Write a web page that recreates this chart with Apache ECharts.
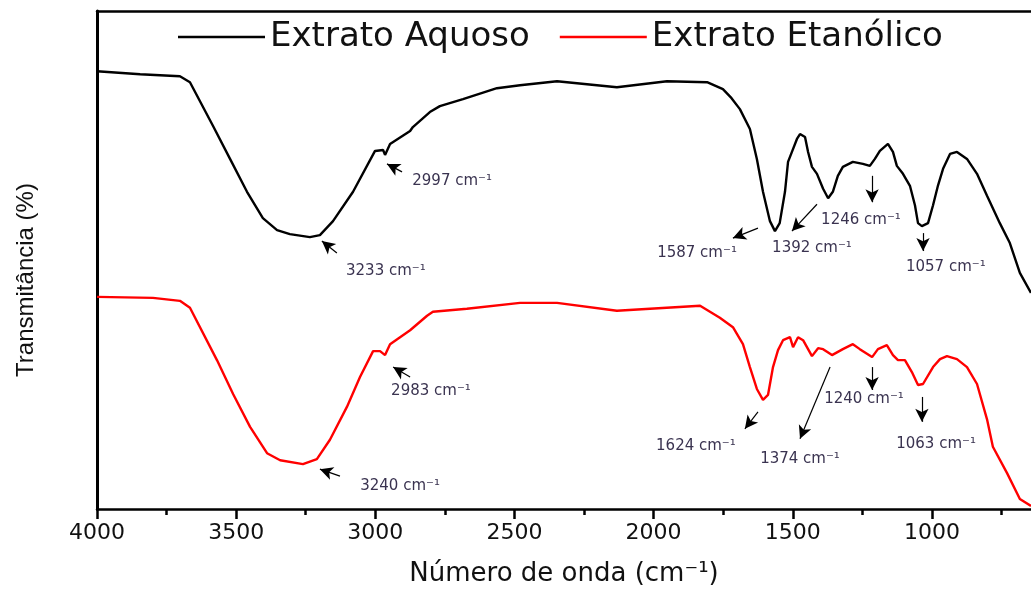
<!DOCTYPE html>
<html>
<head>
<meta charset="utf-8">
<script src="https://cdn.jsdelivr.net/npm/echarts@6/dist/echarts.min.js"></script>
<style>html,body{margin:0;padding:0;background:#fff;}#c{width:1031px;height:592px;}</style>
</head>
<body>
<div id="c"></div>
<script>
// ---- data ----
const seriesNames = ['Extrato Aquoso', 'Extrato Etanólico'];
const majorTicks = [4000, 3500, 3000, 2500, 2000, 1500, 1000];
const minorTicks = [3750, 3250, 2750, 2250, 1750, 1250, 750];

const aquosoWn = [4000, 3845, 3702, 3666, 3583, 3522, 3461, 3404, 3353, 3307, 3235, 3199, 3152, 3080, 3001, 2972, 2965, 2947, 2875, 2865, 2804, 2768, 2685, 2563, 2480, 2347, 2132, 1952, 1808, 1751, 1720, 1690, 1654, 1629, 1607, 1582, 1564, 1547, 1528, 1517, 1503, 1485, 1474, 1456, 1445, 1431, 1413, 1391, 1373, 1356, 1338, 1320, 1284, 1248, 1223, 1205, 1187, 1158, 1140, 1126, 1104, 1079, 1061, 1050, 1036, 1014, 996, 978, 960, 935, 910, 874, 838, 802, 756, 720, 684, 644];
const aquosoT  = [87.9, 87.3, 86.9, 85.7, 76.9, 70.3, 63.7, 58.4, 56.0, 55.2, 54.6, 55.0, 57.8, 63.7, 71.9, 72.1, 71.1, 73.3, 75.9, 76.7, 79.7, 80.9, 82.3, 84.5, 85.1, 85.9, 84.7, 85.9, 85.7, 84.3, 82.5, 80.3, 76.3, 70.3, 63.7, 57.8, 55.8, 57.4, 63.7, 69.7, 71.7, 74.3, 75.3, 74.7, 71.7, 68.7, 67.3, 64.3, 62.4, 63.7, 66.9, 68.7, 69.7, 69.3, 68.9, 70.3, 71.9, 73.3, 71.7, 68.9, 67.3, 64.9, 61.0, 57.4, 56.8, 57.4, 61.0, 65.0, 68.3, 71.3, 71.7, 70.3, 67.3, 62.9, 57.4, 53.4, 47.4, 43.4];

const etanolicoWn = [4000, 3799, 3702, 3666, 3569, 3511, 3450, 3389, 3342, 3260, 3210, 3163, 3102, 3055, 3008, 2983, 2965, 2947, 2875, 2814, 2793, 2671, 2480, 2347, 2132, 2013, 1833, 1762, 1715, 1679, 1654, 1629, 1607, 1589, 1571, 1553, 1535, 1510, 1499, 1481, 1463, 1431, 1409, 1391, 1359, 1320, 1284, 1259, 1215, 1194, 1162, 1140, 1122, 1097, 1072, 1050, 1032, 996, 971, 946, 910, 874, 838, 802, 781, 730, 684, 644];
const etanolicoT  = [42.6, 42.4, 41.8, 40.4, 29.9, 23.1, 16.5, 11.2, 9.8, 9.0, 10.0, 13.9, 20.5, 26.5, 31.7, 31.7, 30.9, 33.1, 35.9, 38.8, 39.6, 40.2, 41.4, 41.4, 39.8, 40.2, 40.8, 38.4, 36.5, 33.1, 28.5, 24.1, 21.9, 22.9, 28.5, 31.9, 33.9, 34.5, 32.5, 34.5, 33.9, 30.7, 32.3, 32.1, 30.9, 32.1, 33.1, 32.1, 30.5, 32.1, 32.9, 30.9, 29.9, 29.9, 27.5, 24.9, 25.1, 28.5, 30.1, 30.7, 30.1, 28.5, 25.1, 18.0, 12.5, 7.2, 2.0, 0.6];

// annotation labels: [text, wavenumber, T]
const aquosoLabels = [
  ['2997 cm⁻¹', 2724, 65.9],
  ['3233 cm⁻¹', 2962, 47.8],
  ['1587 cm⁻¹', 1844, 51.4],
  ['1392 cm⁻¹', 1431, 52.4],
  ['1246 cm⁻¹', 1255, 58.0],
  ['1057 cm⁻¹', 950, 48.6]
];
const etanolicoLabels = [
  ['2983 cm⁻¹', 2800, 23.7],
  ['3240 cm⁻¹', 2911, 4.6],
  ['1624 cm⁻¹', 1848, 12.7],
  ['1374 cm⁻¹', 1474, 10.0],
  ['1240 cm⁻¹', 1244, 22.1],
  ['1063 cm⁻¹', 985, 13.1]
];
// arrows: [tailWn, tailT, headWn, headT]
const aquosoArrows = [
  [2904, 67.7, 2958, 69.3],
  [3138, 51.4, 3192, 53.8],
  [1625, 56.4, 1715, 54.4],
  [1413, 61.2, 1503, 55.8],
  [1215, 66.9, 1215, 61.6],
  [1032, 55.4, 1032, 51.8]
];
const etanolicoArrows = [
  [2875, 26.5, 2936, 28.5],
  [3127, 6.6, 3199, 8.0],
  [1625, 19.5, 1672, 16.1],
  [1366, 28.5, 1474, 14.1],
  [1215, 28.5, 1215, 23.9],
  [1036, 22.5, 1036, 17.5]
];

// ---- build ----
const zip = (a, b) => a.map((v, i) => [v, b[i]]);
const FONT = 'DejaVu Sans';

function markPts(labels) {
  return {
    symbol: 'circle', symbolSize: 0, silent: true, animation: false,
    label: { show: true, position: 'inside', color: '#3a3350', fontFamily: FONT, fontSize: 15 },
    data: labels.map(l => ({ coord: [l[1], l[2]], value: l[0], label: { formatter: l[0] } }))
  };
}
function markArrows(arrows) {
  return {
    silent: true, animation: false,
    symbol: ['none', 'arrow'], symbolSize: [10, 13],
    lineStyle: { color: '#000', width: 1.2, type: 'solid' },
    label: { show: false },
    emphasis: { disabled: true },
    data: arrows.map(a => [{ coord: [a[0], a[1]] }, { coord: [a[2], a[3]] }])
  };
}

const chart = echarts.init(document.getElementById('c'), null, { renderer: 'canvas' });
chart.setOption({
  animation: false,
  backgroundColor: '#fff',
  grid: { left: 97, right: 0, top: 11, bottom: 79 },
  legend: {
    data: seriesNames.map(n => ({ name: n, icon: 'rect' })),
    left: 173, top: 15,
    itemWidth: 87, itemHeight: 2.5, itemGap: 30,
    textStyle: { fontFamily: FONT, fontSize: 34, color: '#111' }
  },
  xAxis: [
    {
      type: 'value', inverse: true, min: 644, max: 4000, position: 'bottom',
      axisLine: { show: true, onZero: false, lineStyle: { color: '#000', width: 2.5 } },
      axisTick: { show: true, customValues: majorTicks, length: 10, lineStyle: { color: '#000', width: 2.5 } },
      axisLabel: { customValues: majorTicks, margin: 13, fontFamily: FONT, fontSize: 22, color: '#111', formatter: v => String(v) },
      splitLine: { show: false },
      name: 'Número de onda (cm⁻¹)', nameLocation: 'middle', nameGap: 52,
      nameTextStyle: { fontFamily: FONT, fontSize: 26, color: '#111' }
    },
    {
      type: 'value', inverse: true, min: 644, max: 4000, position: 'bottom',
      axisLine: { show: false },
      axisTick: { show: true, customValues: minorTicks, length: 6, lineStyle: { color: '#000', width: 2.5 } },
      axisLabel: { show: false }, splitLine: { show: false }
    },
    {
      type: 'value', inverse: true, min: 644, max: 4000, position: 'top',
      axisLine: { show: true, onZero: false, lineStyle: { color: '#000', width: 2.5 } },
      axisTick: { show: false }, axisLabel: { show: false }, splitLine: { show: false }
    }
  ],
  yAxis: {
    type: 'value', min: 0, max: 100,
    axisLine: { show: true, onZero: false, lineStyle: { color: '#000', width: 3 } },
    axisTick: { show: false }, axisLabel: { show: false }, splitLine: { show: false },
    name: 'Transmitância (%)', nameLocation: 'middle', nameGap: 59,
    nameTextStyle: { fontFamily: 'Liberation Sans', fontSize: 24, color: '#111', padding: [0, 40, 0, 0] }
  },
  series: [
    {
      name: seriesNames[0], type: 'line', data: zip(aquosoWn, aquosoT), xAxisIndex: 0,
      symbol: 'none', lineStyle: { color: '#000', width: 2.4 }, itemStyle: { color: '#000' },
      markPoint: markPts(aquosoLabels), markLine: markArrows(aquosoArrows)
    },
    {
      name: seriesNames[1], type: 'line', data: zip(etanolicoWn, etanolicoT), xAxisIndex: 0,
      symbol: 'none', lineStyle: { color: '#ff0000', width: 2.4 }, itemStyle: { color: '#ff0000' },
      markPoint: markPts(etanolicoLabels), markLine: markArrows(etanolicoArrows)
    }
  ]
});
</script>
</body>
</html>
